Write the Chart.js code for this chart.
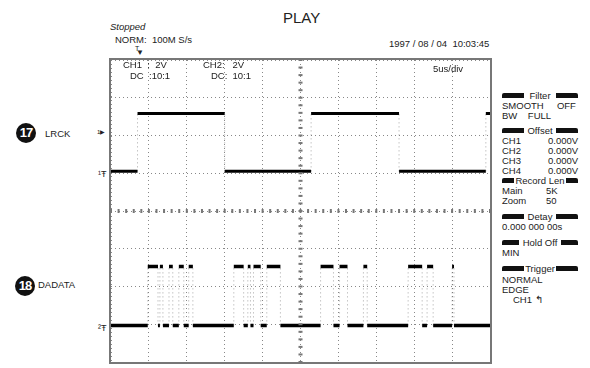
<!DOCTYPE html>
<html>
<head>
<meta charset="utf-8">
<script src="https://cdn.jsdelivr.net/npm/chart.js@4"></script>
<style>
  body { margin: 0; background: #fff; font-family: 'Liberation Sans', Arial, sans-serif; color: #222; }
  #page { position: relative; width: 590px; height: 368px; overflow: hidden; }
  .t { position: absolute; white-space: pre; font-size: 9.5px; line-height: 10px; }
  #screen { position: absolute; left: 109px; top: 58px; width: 383px; height: 306px;
            border: 2px solid #777; box-sizing: border-box; }
  .hdr { position: absolute; left: 502px; width: 76px; height: 10px; font-size: 9.5px; line-height: 10px; text-align: center; }
  .hdr .bl, .hdr .br { position: absolute; top: 2px; width: 22px; height: 5px; background: #111; }
  .hdr .bl { left: 0; border-top-left-radius: 2px; }
  .hdr .br { right: 0; border-top-right-radius: 2px; }
  .circ { position: absolute; width: 20px; height: 20px; border-radius: 50%; background: #111; color: #fff;
          font-size: 13px; font-weight: bold; line-height: 20px; text-align: center; letter-spacing: -1px; }
</style>
</head>
<body>
<div id="page">
  <div class="t" style="left:283px;top:10px;font-size:15px;line-height:16px;">PLAY</div>
  <div class="t" style="left:110px;top:22px;font-style:italic;">Stopped</div>
  <div class="t" style="left:115px;top:35px;">NORM:  100M S/s</div>
  <div class="t" style="left:389px;top:39px;">1997 / 08 / 04  10:03:45</div>
  <div class="t" style="left:135px;top:45px;font-size:7px;line-height:7px;">T</div>
  <div class="t" style="left:136px;top:49px;font-size:8px;line-height:8px;">&#9660;</div>

  <div id="screen"><canvas id="scope"></canvas></div>

  <div class="t" style="left:123px;top:60px;">CH1  :  2V</div>
  <div class="t" style="left:130px;top:71px;">DC  :10:1</div>
  <div class="t" style="left:203px;top:60px;">CH2:   2V</div>
  <div class="t" style="left:203px;top:71px;">   DC:  10:1</div>
  <div class="t" style="left:433px;top:64px;">5us/div</div>

  <div class="circ" style="left:16px;top:123px;">17</div>
  <div class="t" style="left:45px;top:129px;">LRCK</div>
  <div class="circ" style="left:15px;top:276px;">18</div>
  <div class="t" style="left:38px;top:280px;">DADATA</div>

  <div class="t" style="left:97px;top:129px;font-size:6px;line-height:6px;">1&#9654;</div>
  <div class="t" style="left:98px;top:169px;font-size:9px;">&#185;&#358;</div>
  <div class="t" style="left:98px;top:323px;font-size:9px;">&#178;&#358;</div>

  <div class="hdr" style="top:91px;"><div class="bl"></div><div class="br"></div>Filter</div>
  <div class="t" style="left:502px;top:101px;">SMOOTH     OFF</div>
  <div class="t" style="left:502px;top:111px;">BW    FULL</div>
  <div class="hdr" style="top:126px;"><div class="bl"></div><div class="br"></div>Offset</div>
  <div class="t" style="left:502px;top:136px;">CH1</div><div class="t" style="left:548px;top:136px;">0.000V</div>
  <div class="t" style="left:502px;top:146px;">CH2</div><div class="t" style="left:548px;top:146px;">0.000V</div>
  <div class="t" style="left:502px;top:156px;">CH3</div><div class="t" style="left:548px;top:156px;">0.000V</div>
  <div class="t" style="left:502px;top:166px;">CH4</div><div class="t" style="left:548px;top:166px;">0.000V</div>
  <div class="hdr" style="top:176px;"><div class="bl" style="width:12px"></div><div class="br" style="width:12px"></div>Record Len</div>
  <div class="t" style="left:502px;top:186px;">Main</div><div class="t" style="left:546px;top:186px;">5K</div>
  <div class="t" style="left:502px;top:196px;">Zoom</div><div class="t" style="left:546px;top:196px;">50</div>
  <div class="hdr" style="top:212px;"><div class="bl"></div><div class="br"></div>Detay</div>
  <div class="t" style="left:502px;top:222px;">0.000 000 00s</div>
  <div class="hdr" style="top:238px;"><div class="bl" style="width:17px"></div><div class="br" style="width:17px"></div>Hold Off</div>
  <div class="t" style="left:502px;top:248px;">MIN</div>
  <div class="hdr" style="top:264px;"><div class="bl"></div><div class="br"></div>Trigger</div>
  <div class="t" style="left:502px;top:275px;">NORMAL</div>
  <div class="t" style="left:502px;top:285px;">EDGE</div>
  <div class="t" style="left:513px;top:295px;">CH1 &#8624;</div>
</div>

<script>
'use strict';

// ******* WAVEFORM DATA (time in divisions, level in divisions) *******
let lrckEdges = [0.70, 3.00, 5.28, 7.60, 9.89];
let lrckLevels = [1.05, 2.58];          // low, high

let dadataEdges = [0.97, 1.24, 1.29, 1.37, 1.53, 1.63, 1.79, 1.92, 2.05, 2.16,
                   3.24, 3.50, 3.61, 3.68, 3.76, 3.95, 4.11, 4.47,
                   5.53, 5.87, 6.03, 6.24, 6.66, 6.76,
                   7.84, 8.21, 8.34, 8.50, 9.00, 9.05];
let dadataLevels = [-3.03, -1.47];      // low, high

let xDivs = [0, 10];
let yDivs = [-4, 4];

// ****** HELPERS ******
// flat parts of a square wave, broken at each edge
function flatParts(edges, levels) {
  let pts = [];
  let x0 = xDivs[0];
  let lvl = 0;
  for (let i = 0; i <= edges.length; i++) {
    let x1 = i < edges.length ? edges[i] : xDivs[1];
    pts.push({ x: x0, y: levels[lvl] });
    pts.push({ x: x1, y: levels[lvl] });
    pts.push({ x: x1, y: null });
    x0 = x1;
    lvl = 1 - lvl;
  }
  return pts;
}

// the thin rising / falling edges
function edgeParts(edges, levels) {
  let pts = [];
  for (let i = 0; i < edges.length; i++) {
    pts.push({ x: edges[i], y: levels[0] });
    pts.push({ x: edges[i], y: levels[1] });
    pts.push({ x: edges[i], y: null });
  }
  return pts;
}

// small tick marks on the centre cross, like a scope graticule
const graticule = {
  id: 'graticule',
  afterDraw(chart) {
    let ctx = chart.ctx;
    let xs = chart.scales.x;
    let ys = chart.scales.y;
    let cx = xs.getPixelForValue(5);
    let cy = ys.getPixelForValue(0);
    ctx.save();
    ctx.fillStyle = '#777';
    for (let i = 0; i <= 50; i++) {
      let px = xs.getPixelForValue(i * 0.2);
      ctx.fillRect(px - 1, cy - 2, 2, 4);
    }
    for (let i = -20; i <= 20; i++) {
      let py = ys.getPixelForValue(i * 0.2);
      ctx.fillRect(cx - 2, py - 1, 4, 2);
    }
    ctx.restore();
  }
};

const ctx = document.getElementById('scope').getContext('2d');
const scopeChart = new Chart(ctx, {
  type: 'line',
  data: {
    datasets: [
      {
        data: edgeParts(lrckEdges, lrckLevels),
        borderColor: 'rgba(60,60,60,0.45)',
        borderWidth: 1,
        borderDash: [1, 3]
      },
      {
        data: edgeParts(dadataEdges, dadataLevels),
        borderColor: 'rgba(60,60,60,0.45)',
        borderWidth: 1,
        borderDash: [1, 3]
      },
      {
        data: flatParts(lrckEdges, lrckLevels),
        borderColor: '#000',
        borderWidth: 3
      },
      {
        data: flatParts(dadataEdges, dadataLevels),
        borderColor: '#000',
        borderWidth: 3.5
      }
    ]
  },
  options: {
    responsive: true,
    maintainAspectRatio: false,
    animation: false,
    spanGaps: false,
    layout: { padding: 0 },
    elements: { point: { radius: 0 }, line: { tension: 0, borderCapStyle: 'butt' } },
    plugins: { legend: { display: false }, tooltip: { enabled: false } },
    scales: {
      x: {
        type: 'linear',
        min: xDivs[0],
        max: xDivs[1],
        ticks: { display: false, stepSize: 1 },
        grid: { color: '#888', lineWidth: 1, drawTicks: false },
        border: { display: false, dash: [1, 3] }
      },
      y: {
        type: 'linear',
        min: yDivs[0],
        max: yDivs[1],
        ticks: { display: false, stepSize: 1 },
        grid: { color: '#888', lineWidth: 1, drawTicks: false },
        border: { display: false, dash: [1, 3] }
      }
    }
  },
  plugins: [graticule]
});
</script>
</body>
</html>
